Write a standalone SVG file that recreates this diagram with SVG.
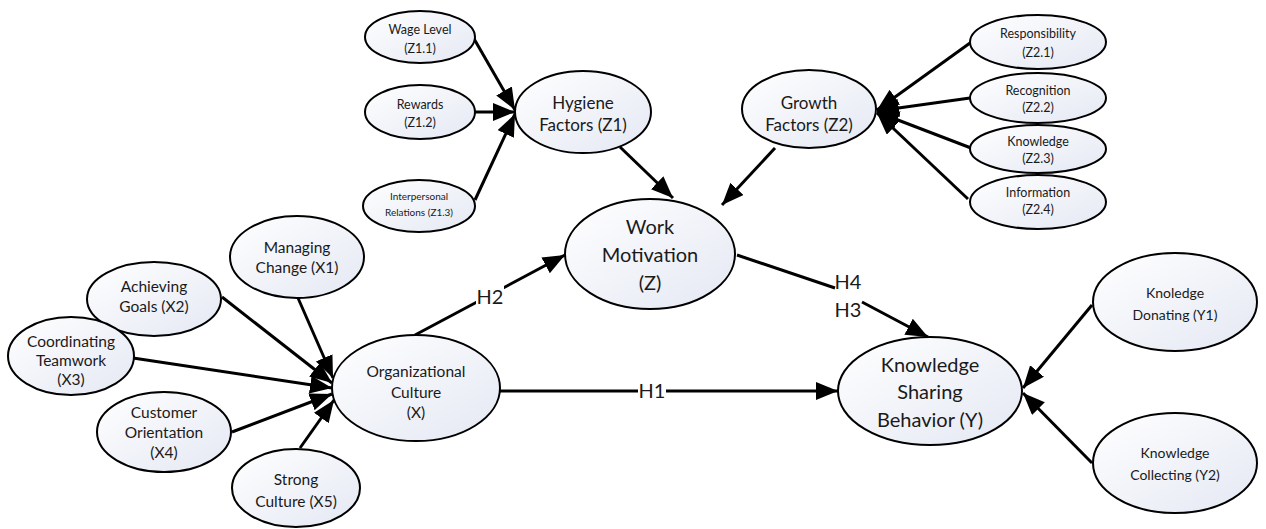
<svg xmlns="http://www.w3.org/2000/svg" width="1266" height="529" viewBox="0 0 1266 529">
<style>
.n ellipse{fill:url(#g);stroke:#000;stroke-width:2}
text{font-family:Lato,"Open Sans","Liberation Sans",sans-serif;fill:#1a1a1a;text-anchor:middle}
.s10{font-size:10px}.s12{font-size:12.5px}.s14{font-size:14px}.s15{font-size:15.5px}.s17{font-size:17px}.s20{font-size:20px}
.e line,.e path{stroke:#000;stroke-width:3;fill:none;marker-end:url(#a)}
.lb{fill:#fff}
</style>
<defs>
<linearGradient id="g" x1="0" y1="0" x2="1" y2="1"><stop offset="0" stop-color="#ffffff"/><stop offset="1" stop-color="#e4e8f3"/></linearGradient>
<marker id="a" markerUnits="userSpaceOnUse" markerWidth="23" markerHeight="19" refX="22" refY="9" orient="auto" viewBox="0 0 23 19"><path d="M0,0 L22,9 L0,18 z" fill="#000"/></marker>
</defs>
<g id="edges" class="e">
<line x1="473" y1="37" x2="515" y2="110"/>
<line x1="475" y1="112" x2="515" y2="112"/>
<line x1="475" y1="200" x2="515" y2="114"/>
<line x1="620" y1="147" x2="673" y2="198"/>
<line x1="970" y1="43" x2="877" y2="110"/>
<line x1="970" y1="98" x2="877" y2="111"/>
<line x1="971" y1="148" x2="877" y2="112"/>
<line x1="968" y1="199" x2="877" y2="113"/>
<line x1="775" y1="148" x2="722" y2="205"/>
<line x1="298" y1="298" x2="333" y2="378"/>
<line x1="222" y1="297" x2="332" y2="383"/>
<line x1="133" y1="358" x2="332" y2="388"/>
<line x1="232" y1="432" x2="332" y2="394"/>
<line x1="300" y1="448" x2="334" y2="400"/>
<line x1="415" y1="335" x2="565" y2="255"/>
<line x1="500" y1="391" x2="838" y2="391"/>
<path d="M737,255 L835,288 M862,302 L928,337"/>
<line x1="1092" y1="305" x2="1023" y2="388"/>
<line x1="1092" y1="463" x2="1023" y2="393"/>
</g>
<g id="labels">
<rect class="lb" x="476" y="285" width="28" height="24"/>
<text class="s20" x="490" y="304">H2</text>
<rect class="lb" x="638" y="379" width="28" height="24"/>
<text class="s20" x="652" y="398">H1</text>
<text class="s20" x="848" y="289">H4</text>
<text class="s20" x="848" y="317">H3</text>
</g>
<g id="z11" class="n"><ellipse cx="420" cy="37" rx="55" ry="26"/><text class="s12" x="420" y="34">Wage Level</text><text class="s12" x="420" y="53">(Z1.1)</text></g>
<g id="z12" class="n"><ellipse cx="420" cy="112" rx="55" ry="27"/><text class="s12" x="420" y="109">Rewards</text><text class="s12" x="420" y="127">(Z1.2)</text></g>
<g id="z13" class="n"><ellipse cx="419" cy="206" rx="56" ry="26"/><text class="s10" x="419" y="200">Interpersonal</text><text class="s10" x="419" y="216">Relations (Z1.3)</text></g>
<g id="z1" class="n"><ellipse cx="583" cy="112" rx="68" ry="41"/><text class="s17" x="583" y="109">Hygiene</text><text class="s17" x="583" y="131">Factors (Z1)</text></g>
<g id="z2" class="n"><ellipse cx="809" cy="109" rx="67" ry="39"/><text class="s17" x="809" y="109">Growth</text><text class="s17" x="809" y="131">Factors (Z2)</text></g>
<g id="z21" class="n"><ellipse cx="1038" cy="42" rx="68" ry="27"/><text class="s12" x="1038" y="38">Responsibility</text><text class="s12" x="1038" y="57">(Z2.1)</text></g>
<g id="z22" class="n"><ellipse cx="1038" cy="98" rx="68" ry="25"/><text class="s12" x="1038" y="95">Recognition</text><text class="s12" x="1038" y="112">(Z2.2)</text></g>
<g id="z23" class="n"><ellipse cx="1038" cy="149" rx="68" ry="24"/><text class="s12" x="1038" y="146">Knowledge</text><text class="s12" x="1038" y="163">(Z2.3)</text></g>
<g id="z24" class="n"><ellipse cx="1038" cy="202" rx="68" ry="27"/><text class="s12" x="1038" y="197">Information</text><text class="s12" x="1038" y="214">(Z2.4)</text></g>
<g id="z" class="n"><ellipse cx="650" cy="254" rx="85" ry="55"/><text class="s20" x="650" y="234">Work</text><text class="s20" x="650" y="262">Motivation</text><text class="s20" x="650" y="290">(Z)</text></g>
<g id="x" class="n"><ellipse cx="416" cy="388" rx="84" ry="53"/><text class="s15" x="416" y="377">Organizational</text><text class="s15" x="416" y="398">Culture</text><text class="s15" x="416" y="418">(X)</text></g>
<g id="y" class="n"><ellipse cx="930" cy="391" rx="92" ry="54"/><text class="s20" x="930" y="372">Knowledge</text><text class="s20" x="930" y="399">Sharing</text><text class="s20" x="930" y="427">Behavior (Y)</text></g>
<g id="y1" class="n"><ellipse cx="1175" cy="302" rx="82" ry="49"/><text class="s14" x="1175" y="298">Knoledge</text><text class="s14" x="1175" y="320">Donating (Y1)</text></g>
<g id="y2" class="n"><ellipse cx="1175" cy="463" rx="82" ry="50"/><text class="s14" x="1175" y="458">Knowledge</text><text class="s14" x="1175" y="480">Collecting (Y2)</text></g>
<g id="x1" class="n"><ellipse cx="297" cy="257" rx="67" ry="41"/><text class="s15" x="297" y="253">Managing</text><text class="s15" x="297" y="273">Change (X1)</text></g>
<g id="x2" class="n"><ellipse cx="154" cy="299" rx="67" ry="37"/><text class="s15" x="154" y="292">Achieving</text><text class="s15" x="154" y="312">Goals (X2)</text></g>
<g id="x3" class="n"><ellipse cx="71" cy="356" rx="63" ry="39"/><text class="s15" x="71" y="347">Coordinating</text><text class="s15" x="71" y="366">Teamwork</text><text class="s15" x="71" y="385">(X3)</text></g>
<g id="x4" class="n"><ellipse cx="164" cy="432" rx="67" ry="40"/><text class="s15" x="164" y="418">Customer</text><text class="s15" x="164" y="438">Orientation</text><text class="s15" x="164" y="458">(X4)</text></g>
<g id="x5" class="n"><ellipse cx="296" cy="488" rx="64" ry="39"/><text class="s15" x="296" y="485">Strong</text><text class="s15" x="296" y="507">Culture (X5)</text></g>
</svg>
